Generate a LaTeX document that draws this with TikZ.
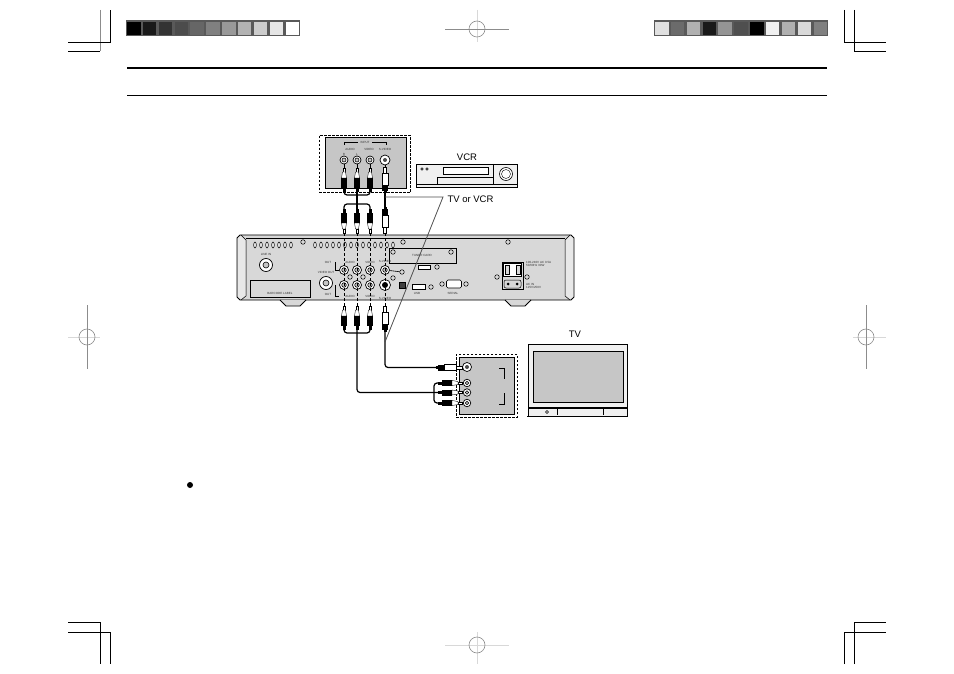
\documentclass[tikz,border=0pt]{standalone}
\usepackage{fontspec}
\setmainfont{Liberation Sans}
\usetikzlibrary{calc}
\definecolor{panelgray}{HTML}{C6C6C6}
\definecolor{reargray}{HTML}{D8D8D8}
\definecolor{markgray}{HTML}{8C8C8C}
\definecolor{marklight}{HTML}{D8D8D8}
\tikzstyle{label} = [inner sep=0pt, font=\fontsize{9.5}{10}\selectfont]
\tikzstyle{tiny} = [inner sep=0pt, font=\fontsize{3}{3}\selectfont, text=black!80]
\tikzstyle{panel} = [draw, line width=1pt, fill=panelgray]
\tikzstyle{dashbox} = [draw, line width=0.8pt, dash pattern=on 2.5pt off 1.5pt]
\tikzstyle{jack} = [circle, draw, line width=0.7pt, fill=white, minimum size=9pt, inner sep=0pt]
\tikzstyle{jackdot} = [circle, draw, line width=0.6pt, fill=panelgray, minimum size=4.5pt, inner sep=0pt]
\tikzstyle{screw} = [circle, draw, line width=0.5pt, fill=reargray, minimum size=4.5pt, inner sep=0pt]
\tikzstyle{cable} = [line width=1.2pt, rounded corners=3pt]
\tikzstyle{wire} = [line width=0.8pt, black!70]
\tikzstyle{guide} = [line width=1pt, dash pattern=on 3pt off 2pt]
\tikzstyle{crop} = [line width=0.7pt]
\tikzstyle{regdark} = [line width=0.7pt, markgray]
\tikzstyle{reglight} = [line width=1pt, marklight]
\tikzstyle{regring} = [circle, draw=markgray, line width=0.6pt, minimum size=16pt, inner sep=0pt]
\tikzset{
  rcaplug/.pic={
    \coordinate (-tip) at (0,0);
    \coordinate (-end) at (0,24);
    \draw[line width=0.4pt, fill=white] (-1,0) rectangle (1,4);
    \draw[line width=0.4pt, fill=white] (-1.5,4) -- (1.5,4) -- (2.5,10) -- (-2.5,10) -- cycle;
    \fill (-3,10) rectangle (3,20);
    \fill (-1.5,20) rectangle (1.5,24);
  },
  splug/.pic={
    \coordinate (-tip) at (0,0);
    \coordinate (-end) at (0,26);
    \draw[line width=0.4pt, fill=white] (-1.5,0) rectangle (1.5,6);
    \draw[line width=0.5pt, fill=white] (-3,6) rectangle (3,18);
    \fill (-3,18) rectangle (3,24);
    \fill (-1.5,24) rectangle (1.5,26);
  }
}
\newcommand{\rcajack}[3]{\node[jack] (#1) at (#2,#3) {}; \node[jackdot] (#1_dot) at (#1) {};}
\begin{document}
\begin{tikzpicture}[x=1pt,y=-1pt]
  \useasboundingbox (0,0) rectangle (954,674);

  % crop marks
  \draw[crop, markgray] (100,10) -- (100,51);
  \draw[crop] (68,51) -- (100,51);
  \draw[crop] (68,42) -- (110,42) -- (110,10);
  \draw[crop] (844,10) -- (844,42) -- (886,42);
  \draw[crop] (854,10) -- (854,51) -- (886,51);
  \draw[crop] (68,622) -- (100,622) -- (100,664);
  \draw[crop] (68,632) -- (110,632) -- (110,664);
  \draw[crop] (844,664) -- (844,632) -- (886,632);
  \draw[crop] (854,664) -- (854,622) -- (886,622);

  % register marks
  \draw[reglight] (477,10) -- (477,42);
  \draw[regdark] (445,29) -- (509,29);
  \node[regring] (reg_top) at (477,29) {};
  \draw[reglight] (68,337) -- (100,337);
  \draw[regdark] (87,305) -- (87,369);
  \node[regring] (reg_left) at (87,337) {};
  \draw[reglight] (853,337) -- (886,337);
  \draw[regdark] (866,305) -- (866,369);
  \node[regring] (reg_right) at (866,337) {};
  \draw[reglight] (445,645) -- (509,645);
  \draw[reglight] (477,632) -- (477,664);
  \node[regring] (reg_bottom) at (477,645) {};

  % colour bars
  \fill[black!65] (126,20) rectangle (300,36);
  \foreach \i/\g in {0/0,1/10,2/20,3/30,4/40,5/50,6/60,7/70,8/80,9/90,10/100}
    \fill[black!\the\numexpr100-\g\relax] ({127+\i*15.85},22) rectangle ({140.5+\i*15.85},35);
  \fill[black!65] (654,20) rectangle (828,36);
  \foreach \i/\g in {0/88,1/42,2/69,3/10,4/58,5/31,6/0,7/94,8/69,9/85,10/50}
    \fill[black!\the\numexpr100-\g\relax] ({655+\i*15.85},22) rectangle ({668.5+\i*15.85},35);

  % page rules
  \draw[line width=2pt] (127,68) -- (827,68);
  \draw[line width=0.8pt] (127,95.5) -- (827,95.5);
  \node[circle, fill, minimum size=6pt, inner sep=0pt] (bullet) at (190,485) {};

  % rear panel
  \draw[line width=0.8pt, fill=reargray] (240,235) -- (571,235) -- (574,238) -- (574,297) -- (571,300)
    -- (240,300) -- (237,297) -- (237,238) -- cycle;
  \fill[reargray!60!white] (238,238) -- (241,236) -- (245,240) -- (245,296) -- (241,299) -- (238,297) -- cycle;
  \fill[reargray!60!white] (573,238) -- (570,236) -- (566,240) -- (566,296) -- (570,299) -- (573,297) -- cycle;
  \draw[line width=0.5pt] (241,235) -- (246,240) -- (246,296) -- (241,300);
  \draw[line width=0.5pt] (570,235) -- (565,240) -- (565,296) -- (570,300);
  \draw[line width=0.5pt] (246,238) -- (565,238);
  \draw[line width=0.8pt, fill=reargray] (280,300) -- (286,306) -- (300,306) -- (306,300);
  \draw[line width=0.8pt, fill=reargray] (505,300) -- (511,306) -- (525,306) -- (531,300);
  % vents
  \foreach \x in {255,261,...,291}
    \draw[line width=0.6pt, fill=white] (\x,245) ellipse (1.3 and 3);
  \foreach \x in {315,321,...,393}
    \draw[line width=0.6pt, fill=white] (\x,245) ellipse (1.3 and 3);
  % screws
  \foreach \n/\x/\y in {s1/303/242,s2/403/242,s3/508/242,s4/350/277,s5/363/277,s6/393/278,s7/402/272,s8/437/267,s9/431/287,s10/442/284,s11/466/284,s12/497/277,s13/527/277}
    \node[screw] (\n) at (\x,\y) {};

  % rear panel connectors
  \node[jack, minimum size=13pt] (line_in) at (266,265) {};
  \node[jackdot, minimum size=6pt] (line_in_dot) at (line_in) {};
  \node[tiny] (line_in_txt) at (266,254) {LINE IN};
  \node[jack, minimum size=13pt] (video_out) at (326,283) {};
  \node[jackdot, minimum size=6pt] (video_out_dot) at (video_out) {};
  \node[tiny] (video_out_txt) at (326,272) {VIDEO OUT};
  \node[draw, line width=0.5pt, fill=reargray, minimum width=60pt, minimum height=17pt, inner sep=0pt] (label_box) at (280,288.5) {};
  \node[tiny] (label_txt) at (280,293) {BARCODE LABEL};
  \node[draw, line width=0.6pt, fill=reargray, minimum width=67pt, minimum height=15pt, inner sep=0pt] (tuner) at (422.5,255.5) {};
  \node[tiny] (tuner_txt) at (422,255) {TUNER CARD};
  \node[screw] (tuner_a) at (393,252) {};
  \node[screw] (tuner_b) at (451,252) {};
  \draw[line width=0.5pt] (335,262) -- (335,270) -- (339,270);
  \draw[line width=0.5pt] (335,285) -- (335,296) -- (339,296);
  \node[tiny] (out_a) at (328,262) {OUT};
  \node[tiny] (out_b) at (328,294) {OUT};
  \node[tiny] (rear_audio_a) at (350,262) {AUDIO};
  \node[tiny] (rear_video_a) at (370,262) {VIDEO};
  \node[tiny] (rear_s_a) at (385,261) {S-VIDEO};
  \node[tiny] (rear_audio_b) at (350,296) {AUDIO};
  \node[tiny] (rear_video_b) at (370,296) {VIDEO};
  \node[tiny] (rear_s_b) at (385,298) {S-VIDEO};
  \rcajack{r_ul}{344}{270}
  \rcajack{r_um}{357}{270}
  \rcajack{r_ur}{370}{270}
  \rcajack{r_us}{385}{270}
  \rcajack{r_ll}{344}{285}
  \rcajack{r_lm}{357}{285}
  \rcajack{r_lr}{370}{285}
  \node[jack, minimum size=11pt] (r_ls) at (385,285) {};
  \node[circle, fill, minimum size=6pt, inner sep=0pt] (r_ls_dot) at (r_ls) {};
  \draw[line width=0.6pt] (r_us) -- (s7);
  \node[draw, fill=black!75, minimum size=6pt, inner sep=0pt] (optical) at (402,285) {};
  \node[draw, line width=0.5pt, fill=white, minimum width=13pt, minimum height=5pt, inner sep=0pt] (usb) at (418.5,286.5) {};
  \node[tiny] (usb_txt) at (417,293) {USB};
  \node[draw, line width=0.5pt, fill=white, minimum width=12pt, minimum height=4pt, inner sep=0pt] (ttt) at (424,267) {};
  \node[draw, line width=0.6pt, rounded corners=1.5pt, fill=white, minimum width=15pt, minimum height=8pt, inner sep=0pt] (serial) at (454,284) {};
  \node[tiny] (serial_txt) at (453,293) {SERIAL};
  % power section
  \node[draw, line width=0.6pt, fill=reargray, minimum width=21pt, minimum height=27pt, inner sep=0pt] (power) at (512.5,275.5) {};
  \node[draw, line width=1pt, fill=white, minimum width=18pt, minimum height=13pt, inner sep=0pt] (switch) at (512.5,269.5) {};
  \node[draw, line width=0.5pt, fill=reargray, minimum width=4pt, minimum height=9pt, inner sep=0pt] (switch_a) at (507,269.5) {};
  \node[draw, line width=0.5pt, fill=reargray, minimum width=4pt, minimum height=9pt, inner sep=0pt] (switch_b) at (518,269.5) {};
  \node[circle, fill, minimum size=3pt, inner sep=0pt] (inlet_a) at (508,284) {};
  \node[circle, fill, minimum size=3pt, inner sep=0pt] (inlet_b) at (517,284) {};
  \node[draw, line width=0.5pt, rounded corners=2pt, minimum width=17pt, minimum height=8pt, inner sep=0pt] (inlet) at (512.5,284) {};
  \node[tiny, align=left, anchor=west] (power_txt) at (526,263.5) {100-240V AC 0.5A\\50/60Hz 30W};
  \node[tiny, align=left, anchor=west] (inlet_txt) at (526,286) {AC IN\\125V/250V};

  % input panel at the top
  \node[dashbox, minimum width=91pt, minimum height=57.5pt, inner sep=0pt] (in_box) at (364.5,163.8) {};
  \node[panel, minimum width=81pt, minimum height=51pt, inner sep=0pt] (in_panel) at (366.2,163.5) {};
  \draw[line width=0.6pt] (344,145) -- (344,142.3) -- (358,142.3);
  \draw[line width=0.6pt] (372,142.3) -- (386,142.3) -- (386,145);
  \node[tiny] (in_title) at (365,142.3) {INPUT};
  \node[tiny] (in_audio) at (350,149) {AUDIO};
  \node[tiny] (in_video) at (369,149) {VIDEO};
  \node[tiny] (in_svideo) at (385,149) {S-VIDEO};
  \node[tiny] (in_r) at (344,154) {R};
  \node[tiny] (in_l) at (357,154) {L};
  \node[jack, minimum size=8pt] (j_l) at (344,160) {};
  \node[jackdot, minimum size=4pt] (j_l_dot) at (j_l) {};
  \node[jack, minimum size=8pt] (j_m) at (357,160) {};
  \node[jackdot, minimum size=4pt] (j_m_dot) at (j_m) {};
  \node[jack, minimum size=8pt] (j_r) at (370,160) {};
  \node[jackdot, minimum size=4pt] (j_r_dot) at (j_r) {};
  \node[jack, minimum size=10pt] (j_s) at (385,160) {};
  \node[circle, fill=black!70, minimum size=4pt, inner sep=0pt] (j_s_dot) at (j_s) {};

  % VCR
  \node[draw, line width=0.7pt, fill=black!6, minimum width=101pt, minimum height=23pt, inner sep=0pt] (vcr) at (466.5,175.5) {};
  \node[label] (vcr_txt) at (467,157) {VCR};
  \node[draw, line width=0.5pt, fill=white, minimum width=45pt, minimum height=7pt, inner sep=0pt] (vcr_disp) at (465.5,170.5) {};
  \node[circle, draw, line width=0.4pt, minimum size=2.5pt, inner sep=0pt] (vcr_a) at (422,169) {};
  \node[circle, draw, line width=0.4pt, minimum size=2.5pt, inner sep=0pt] (vcr_b) at (427,169) {};
  \node[circle, draw, line width=0.6pt, fill=white, minimum size=13pt, inner sep=0pt] (vcr_dial) at (506,174) {};
  \node[circle, draw, line width=0.4pt, minimum size=9pt, inner sep=0pt] (vcr_dial_in) at (vcr_dial) {};
  \draw[line width=0.5pt] (493,164) -- (493,184);
  \draw[line width=0.5pt] (437,184) -- (437,177) -- (493,177);
  \draw[line width=0.5pt] (416,184) -- (517,184);

  % TV input panel
  \node[dashbox, minimum width=61pt, minimum height=63pt, inner sep=0pt] (tv_box) at (486.5,385.5) {};
  \node[panel, minimum width=55pt, minimum height=57pt, inner sep=0pt] (tv_panel) at (486.5,385.5) {};
  \draw[line width=0.7pt] (499,368) -- (504,368) -- (504,379);
  \draw[line width=0.7pt] (504,393) -- (504,404) -- (499,404);
  \node[jack, minimum size=9pt] (t_s) at (467,367) {};
  \node[circle, fill=black!70, minimum size=4pt, inner sep=0pt] (t_s_dot) at (t_s) {};
  \node[jack, minimum size=7.5pt] (t_a) at (467,383) {};
  \node[jackdot, minimum size=3.5pt] (t_a_dot) at (t_a) {};
  \node[jack, minimum size=7.5pt] (t_b) at (467,392.5) {};
  \node[jackdot, minimum size=3.5pt] (t_b_dot) at (t_b) {};
  \node[jack, minimum size=7.5pt] (t_c) at (467,403) {};
  \node[jackdot, minimum size=3.5pt] (t_c_dot) at (t_c) {};

  % TV
  \node[label] (tv_txt) at (575,334) {TV};
  \node[draw, line width=0.7pt, fill=black!6, minimum width=99pt, minimum height=72pt, inner sep=0pt] (tv) at (577.5,380.5) {};
  \node[draw, line width=1pt, fill=panelgray, minimum width=90pt, minimum height=51pt, inner sep=0pt] (tv_screen) at (578,376.5) {};
  \draw[line width=1.2pt] (528,408) -- (627,408);
  \draw[line width=0.5pt] (557,408) -- (557,415);
  \draw[line width=0.5pt] (603,408) -- (603,415);
  \draw[line width=1pt] (527,416.5) -- (628,416.5);
  \node[circle, draw, line width=0.4pt, minimum size=3pt, inner sep=0pt] (tv_knob) at (547,412) {};

  % plugs
  \pic (p_tl) at (344,168) {rcaplug};
  \pic (p_tm) at (357,168) {rcaplug};
  \pic (p_tr) at (370,168) {rcaplug};
  \pic (p_ts) at (385,167) {splug};
  \pic[rotate=180] (p_ml) at (344,233) {rcaplug};
  \pic[rotate=180] (p_mm) at (357,233) {rcaplug};
  \pic[rotate=180] (p_mr) at (370,233) {rcaplug};
  \pic[rotate=180] (p_ms) at (385,233) {splug};
  \pic (p_bl) at (344,306) {rcaplug};
  \pic (p_bm) at (357,306) {rcaplug};
  \pic (p_br) at (370,306) {rcaplug};
  \pic (p_bs) at (385,306) {splug};
  \pic[rotate=-90] (p_va) at (462,383) {rcaplug};
  \pic[rotate=-90] (p_vb) at (462,392.5) {rcaplug};
  \pic[rotate=-90] (p_vc) at (462,403) {rcaplug};
  \pic[rotate=-90] (p_vs) at (462,367.5) {splug};

  % plug to jack
  \draw[line width=0.6pt] (j_l) -- (p_tl-tip);
  \draw[line width=0.6pt] (j_m) -- (p_tm-tip);
  \draw[line width=0.6pt] (j_r) -- (p_tr-tip);
  \draw[line width=0.6pt] (j_s) -- (p_ts-tip);
  \draw[guide] (p_ml-tip) -- (p_bl-tip);
  \draw[guide] (p_mm-tip) -- (p_bm-tip);
  \draw[guide] (p_mr-tip) -- (p_br-tip);
  \draw[guide] (p_ms-tip) -- (p_bs-tip);

  % cables
  \draw[cable] (p_tl-end) -- ++(0,3) -| (p_tr-end);
  \draw[cable] (p_ml-end) -- ++(0,-5) -| (p_mr-end);
  \draw[cable] (p_tm-end) -- (p_mm-end);
  \draw[cable] (p_ts-end) -- (p_ms-end);
  \draw[cable] (p_bl-end) -- ++(0,3) -| (p_br-end);
  \draw[cable] (p_bm-end) |- (p_vb-end);
  \draw[cable] (p_bs-end) |- (p_vs-end);
  \draw[cable] (p_va-end) -- ++(-4,0) |- (p_vc-end);

  % shared lead
  \coordinate (lead_a) at (385,197);
  \coordinate (lead_b) at (443,197);
  \coordinate (lead_c) at (385,342);
  \draw[wire] (lead_a) -- (lead_b) -- (lead_c);
  \node[label] (lead_txt) at (470.5,199) {TV or VCR};
\end{tikzpicture}
\end{document}
